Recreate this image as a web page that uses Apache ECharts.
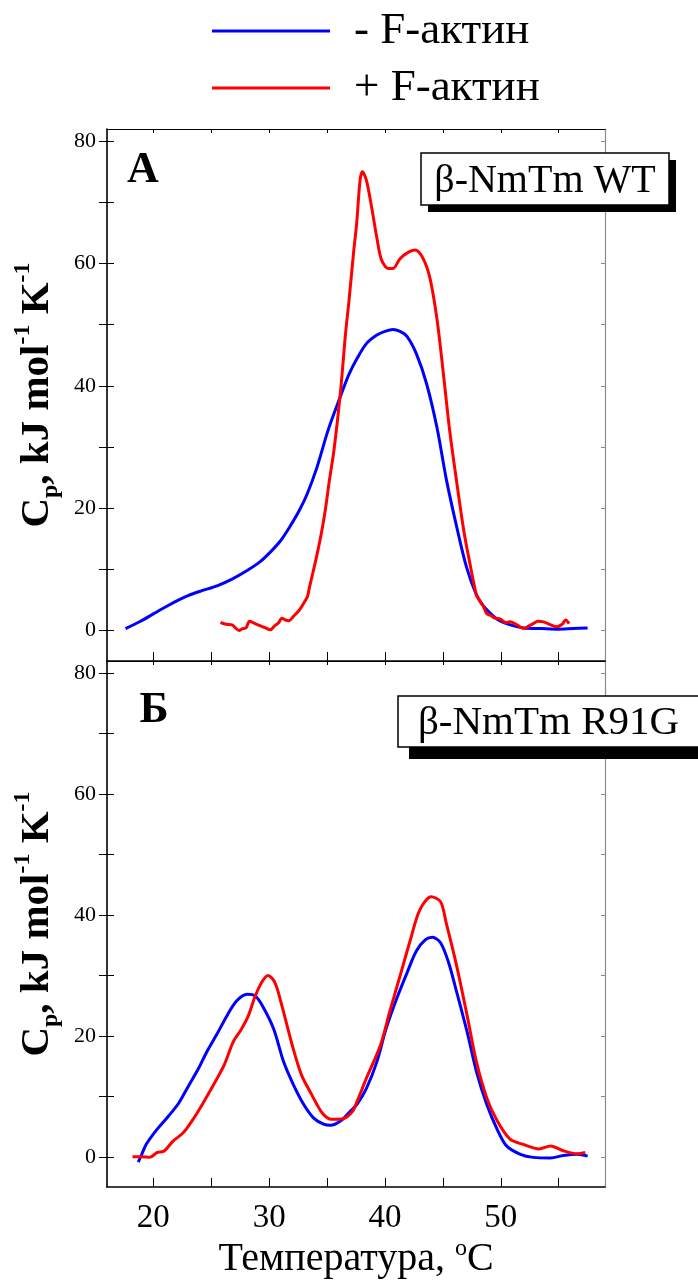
<!DOCTYPE html>
<html>
<head>
<meta charset="utf-8">
<script src="https://cdn.jsdelivr.net/npm/echarts@6/dist/echarts.min.js"></script>
<style>
html,body{margin:0;padding:0;background:#fff;}
#chart{width:698px;height:1282px;}
</style>
</head>
<body>
<div id="chart"></div>
<script>
// ---- data ----
const seriesNames = ['- F-актин', '+ F-актин'];
const panelLetters = ['А', 'Б'];
const panelBoxes = ['β-NmTm WT', 'β-NmTm R91G'];
const xTickValues = [20, 25, 30, 35, 40, 45, 50, 55];
const xLabelValues = [20, 30, 40, 50];
const yTickValues = [0, 10, 20, 30, 40, 50, 60, 70, 80];
const yLabelValues = [0, 20, 40, 60, 80];

// Panel A, without F-actin (blue)
const aBlueX = [17.6,18.9,20.0,21.2,22.2,23.0,24.2,25.5,26.8,28.1,29.2,30.1,31.0,31.8,32.6,33.3,34.1,35.1,36.1,36.9,37.6,38.4,39.3,40.0,40.7,41.3,41.9,42.7,43.6,44.5,45.3,46.2,47.05,47.9,48.5,49.1,49.8,50.5,51.2,52.0,53.5,54.9,56.2,57.5];
const aBlueY = [0.3,1.5,2.7,4.0,5.0,5.7,6.5,7.3,8.4,9.8,11.2,12.8,14.7,17.0,19.6,22.4,26.5,32.8,38.0,41.9,44.5,46.9,48.3,48.9,49.2,48.9,48.1,45.3,40.3,33.1,24.7,16.9,10.3,5.8,4.0,2.8,1.7,1.1,0.7,0.4,0.3,0.2,0.3,0.4];
// Panel A, with F-actin (red)
const aRedX = [25.8,26.3,26.8,27.1,27.4,27.7,28.0,28.3,28.7,29.2,29.7,30.1,30.5,30.8,31.1,31.4,31.7,32.1,32.6,33.0,33.3,33.5,33.7,34.1,34.5,34.85,35.2,35.6,36.15,36.6,36.9,37.3,37.55,37.85,38.05,38.4,38.85,39.3,39.7,40.3,40.7,41.3,41.9,42.6,43.3,43.9,44.5,45.05,45.6,46.2,46.8,47.35,47.9,48.2,48.5,48.8,49.1,49.5,49.95,50.4,50.8,51.4,52.0,52.4,52.8,53.2,53.7,54.2,54.85,55.3,55.6,55.9];
const aRedY = [1.3,1.0,0.9,0.4,0.0,0.3,0.4,1.5,1.2,0.8,0.4,0.1,0.8,1.2,2.0,1.7,1.6,2.3,3.3,4.5,5.5,7.2,8.8,12.1,15.8,19.7,24.5,29.5,38.8,48.6,54.0,62.0,66.4,73.6,75.0,73.6,69.2,64.2,60.6,59.2,59.2,60.8,61.7,62.2,60.8,57.5,50.8,41.9,32.5,24.2,16.4,10.8,5.8,4.8,3.9,2.7,2.5,2.0,1.9,1.3,1.4,0.9,0.3,0.7,1.1,1.5,1.4,1.0,0.6,1.0,1.7,1.1];
// Panel B, without F-actin (blue)
const bBlueX = [18.7,19.0,19.4,20.3,21.3,22.2,23.0,23.9,24.6,25.5,26.35,27.2,28.1,28.8,29.5,30.4,31.25,32.1,33.0,33.85,34.7,35.3,36.15,37.0,37.6,38.4,39.3,40.1,41.0,41.9,42.7,43.5,44.1,44.8,45.5,46.2,47.1,47.9,48.8,49.7,50.5,51.7,52.8,54.3,55.4,56.6,57.5];
const bBlueY = [-0.9,0.4,2.1,4.5,6.7,8.9,11.6,14.6,17.3,20.3,23.3,25.8,26.9,26.6,24.7,21.1,15.7,11.9,8.6,6.4,5.4,5.2,5.9,7.5,8.7,11.3,15.7,21.2,26.1,30.4,34.0,35.9,36.3,35.4,32.1,27.2,20.6,14.1,8.6,4.5,1.8,0.4,-0.1,-0.2,0.2,0.4,0.1];
// Panel B, with F-actin (red)
const bRedX = [18.2,19.0,19.7,20.3,20.9,21.7,22.6,23.5,24.3,25.2,26.1,26.9,27.6,28.2,28.8,29.4,29.9,30.5,31.1,32.0,32.8,33.7,34.6,35.4,36.4,37.2,37.6,38.4,39.6,40.4,41.3,42.2,43.0,44.0,44.8,45.3,46.2,47.1,47.9,48.8,49.7,50.8,52.0,53.3,54.3,55.4,56.6,57.3];
const bRedY = [0.0,0.0,-0.1,0.7,0.9,2.6,4.0,6.4,8.9,11.9,15.1,19.0,21.1,23.3,26.6,29.0,30.0,28.8,25.0,18.4,13.5,10.2,7.2,6.2,6.3,7.5,9.2,13.0,18.4,23.9,29.9,35.9,40.8,43.0,42.2,38.6,31.5,23.3,15.7,9.7,5.9,2.9,2.0,1.3,1.8,1.0,0.5,0.7];

// ---- chart ----
const FONT = '"Liberation Serif", "Times New Roman", serif';
const BLUE = '#0000ff', RED = '#ff0000';
const pairs = (xs, ys) => xs.map((x, i) => [x, ys[i]]);

const X_MIN = 16, X_MAX = 59, Y_MIN = -5, Y_MAX = 82;
const grids = [
  {left: 107, width: 498, top: 129, height: 532},
  {left: 107, width: 498, top: 661, height: 532}
];

const yNameRich = {
  b: {fontFamily: FONT, fontWeight: 'bold', fontSize: 41, lineHeight: 52, color: '#000'},
  sub: {fontFamily: FONT, fontWeight: 'bold', fontSize: 24, lineHeight: 26, verticalAlign: 'bottom', color: '#000'},
  sup: {fontFamily: FONT, fontWeight: 'bold', fontSize: 24, lineHeight: 26, verticalAlign: 'top', color: '#000'}
};
const yName = '{b|C}{sub|p}{b|, kJ mol}{sup|-1}{b| K}{sup|-1}';

const xAxes = [], yAxes = [];
grids.forEach((g, gi) => {
  const last = gi === grids.length - 1;
  xAxes.push({
    type: 'value', gridIndex: gi, position: 'bottom', min: X_MIN, max: X_MAX,
    axisLine: {show: true, onZero: false, lineStyle: {color: '#000', width: 1.6}},
    axisTick: {show: true, inside: true, length: 9, customValues: xTickValues, lineStyle: {color: '#000', width: 1}},
    axisLabel: last ? {show: true, customValues: xLabelValues, margin: 15, fontFamily: FONT, fontSize: 33, color: '#000'} : {show: false},
    splitLine: {show: false},
    name: last ? 'Температура, {sup|o}C' : '',
    nameLocation: 'middle', nameGap: 50,
    nameTextStyle: {fontFamily: FONT, fontSize: 40, color: '#000', lineHeight: 44,
      rich: {sup: {fontFamily: FONT, fontSize: 24, lineHeight: 44, verticalAlign: 'top', color: '#000', padding: [0, 0, 14, 0]}}}
  });
  xAxes.push({
    type: 'value', gridIndex: gi, position: 'top', min: X_MIN, max: X_MAX,
    axisLine: {show: true, onZero: false, lineStyle: {color: '#000', width: 1.2}},
    axisTick: {show: true, inside: true, length: 4, customValues: xTickValues, lineStyle: {color: '#000', width: 1}},
    axisLabel: {show: false}, splitLine: {show: false}
  });
  yAxes.push({
    type: 'value', gridIndex: gi, position: 'left', min: Y_MIN, max: Y_MAX,
    axisLine: {show: true, onZero: false, lineStyle: {color: '#000', width: 1.6}},
    axisTick: {show: true, inside: false, length: 8, customValues: yTickValues, lineStyle: {color: '#000', width: 1}},
    axisLabel: {show: true, customValues: yLabelValues, margin: 11, fontFamily: FONT, fontSize: 22, color: '#000'},
    splitLine: {show: false},
    name: yName, nameLocation: 'middle', nameRotate: 90, nameGap: 44,
    nameTextStyle: {fontFamily: FONT, fontWeight: 'bold', fontSize: 41, color: '#000', rich: yNameRich}
  });
  yAxes.push({
    type: 'value', gridIndex: gi, position: 'left', min: Y_MIN, max: Y_MAX,
    axisLine: {show: false},
    axisTick: {show: true, inside: true, length: 7, customValues: yTickValues, lineStyle: {color: '#000', width: 1}},
    axisLabel: {show: false}, splitLine: {show: false}
  });
  yAxes.push({
    type: 'value', gridIndex: gi, position: 'right', min: Y_MIN, max: Y_MAX,
    axisLine: {show: true, onZero: false, lineStyle: {color: '#8a8a8a', width: 1.2}},
    axisTick: {show: true, inside: true, length: 4, customValues: yTickValues, lineStyle: {color: '#8a8a8a', width: 1}},
    axisLabel: {show: false}, splitLine: {show: false}
  });
});

const lineSeries = (name, color, data, gi) => ({
  name, type: 'line', data, xAxisIndex: gi * 2, yAxisIndex: gi * 3,
  symbol: 'none', smooth: 0.3, clip: false,
  lineStyle: {color, width: 3}, itemStyle: {color}
});

const series = [
  lineSeries(seriesNames[0], BLUE, pairs(aBlueX, aBlueY), 0),
  lineSeries(seriesNames[1], RED, pairs(aRedX, aRedY), 0),
  lineSeries(seriesNames[0], BLUE, pairs(bBlueX, bBlueY), 1),
  lineSeries(seriesNames[1], RED, pairs(bRedX, bRedY), 1)
];

// annotation boxes with hard black drop shadows (drawn above axes)
function labelBox(text, x, y, w, h, dx, dy, fontSize, textX, textY, align) {
  return {
    type: 'group', silent: true, z: 100,
    children: [
      {type: 'rect', z: 100, shape: {x: x + dx, y: y + dy, width: w, height: h}, style: {fill: '#000'}},
      {type: 'rect', z: 101, shape: {x: x, y: y, width: w, height: h}, style: {fill: '#fff', stroke: '#000', lineWidth: 1.5}},
      {type: 'text', z: 102, x: textX, y: textY, style: {text: text, fontFamily: FONT, fontSize: fontSize, fill: '#000', textAlign: align, textVerticalAlign: 'middle'}}
    ]
  };
}

const letterStyle = {fontFamily: FONT, fontWeight: 'bold', fontSize: 44, fill: '#000', textAlign: 'center', textVerticalAlign: 'middle'};
const graphic = [
  labelBox(panelBoxes[0], 421, 153, 248, 52, 7, 7, 40, 545, 181, 'center'),
  labelBox(panelBoxes[1], 398, 696, 330, 51, 11, 12, 41, 418, 723, 'left'),
  {type: 'text', z: 100, x: 143, y: 171, style: Object.assign({text: panelLetters[0]}, letterStyle)},
  {type: 'text', z: 100, x: 154, y: 711, style: Object.assign({text: panelLetters[1]}, letterStyle)}
];

const chart = echarts.init(document.getElementById('chart'), null, {renderer: 'canvas'});
chart.setOption({
  backgroundColor: '#fff',
  animation: false,
  legend: {
    orient: 'vertical', left: 212, top: 8, padding: 0,
    icon: 'rect', itemWidth: 118, itemHeight: 3, itemGap: 11,
    data: seriesNames,
    textStyle: {fontFamily: FONT, fontSize: 45, lineHeight: 46, color: '#000', padding: [0, 0, 0, 19]}
  },
  grid: grids,
  xAxis: xAxes,
  yAxis: yAxes,
  series,
  graphic
});
</script>
</body>
</html>
